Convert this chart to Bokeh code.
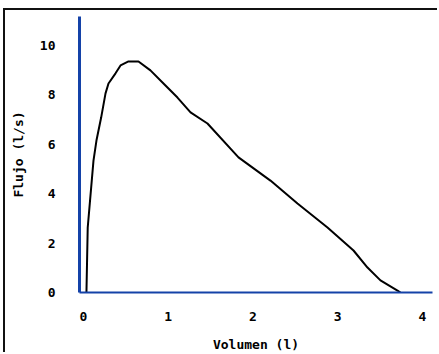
from bokeh.plotting import figure
from bokeh.models import Range1d, FixedTicker
from bokeh.embed import file_html
from bokeh.resources import INLINE

# Flow-volume curve
volumen = [0.035, 0.05, 0.118, 0.153, 0.209, 0.26, 0.295, 0.378, 0.437, 0.531, 0.649,
           0.79, 0.944, 1.109, 1.263, 1.463, 1.829, 2.206, 2.525, 2.879, 3.186,
           3.351, 3.504, 3.705, 3.74]
flujo = [0.0, 2.63, 5.34, 6.15, 7.09, 8.06, 8.46, 8.87, 9.19, 9.35, 9.35,
         8.99, 8.46, 7.89, 7.29, 6.84, 5.47, 4.53, 3.60, 2.63, 1.70,
         1.01, 0.49, 0.08, 0.0]
x_ticks = [0, 1, 2, 3, 4]
y_ticks = [0, 2, 4, 6, 8, 10]

FONT = "DejaVu Sans Mono"
BLUE = "#1442a8"

p = figure(width=434, height=344, output_backend="svg", toolbar_location=None,
           x_range=Range1d(-0.047, 4.118), y_range=Range1d(0, 11.17),
           min_border_left=74, min_border_right=7, min_border_top=6, min_border_bottom=62)
p.outline_line_color = None
p.grid.visible = False
p.background_fill_color = "white"
p.border_fill_color = "white"
p.styles = {"border-top": "2px solid #111111", "border-left": "2px solid #111111",
            "margin-left": "3px", "margin-top": "8px"}

p.line(volumen, flujo, line_color="black", line_width=2)

for ax in (p.xaxis[0], p.yaxis[0]):
    ax.axis_line_color = BLUE
    ax.major_tick_line_color = None
    ax.minor_tick_line_color = None
    ax.major_label_text_font = FONT
    ax.major_label_text_font_size = "13px"
    ax.major_label_text_font_style = "bold"
    ax.major_label_text_color = "black"
    ax.axis_label_text_font = FONT
    ax.axis_label_text_font_size = "13px"
    ax.axis_label_text_font_style = "bold"
    ax.axis_label_text_color = "black"

p.yaxis.axis_line_width = 3
p.xaxis.axis_line_width = 2
p.xaxis.ticker = FixedTicker(ticks=x_ticks)
p.yaxis.ticker = FixedTicker(ticks=y_ticks)
p.xaxis.axis_label = "Volumen (l)"
p.yaxis.axis_label = "Flujo (l/s)"
p.yaxis.major_label_standoff = 18
p.xaxis.major_label_standoff = 13
p.xaxis.axis_label_standoff = 13
p.yaxis.axis_label_standoff = 11

open("out.html", "w").write(file_html(p, INLINE))
